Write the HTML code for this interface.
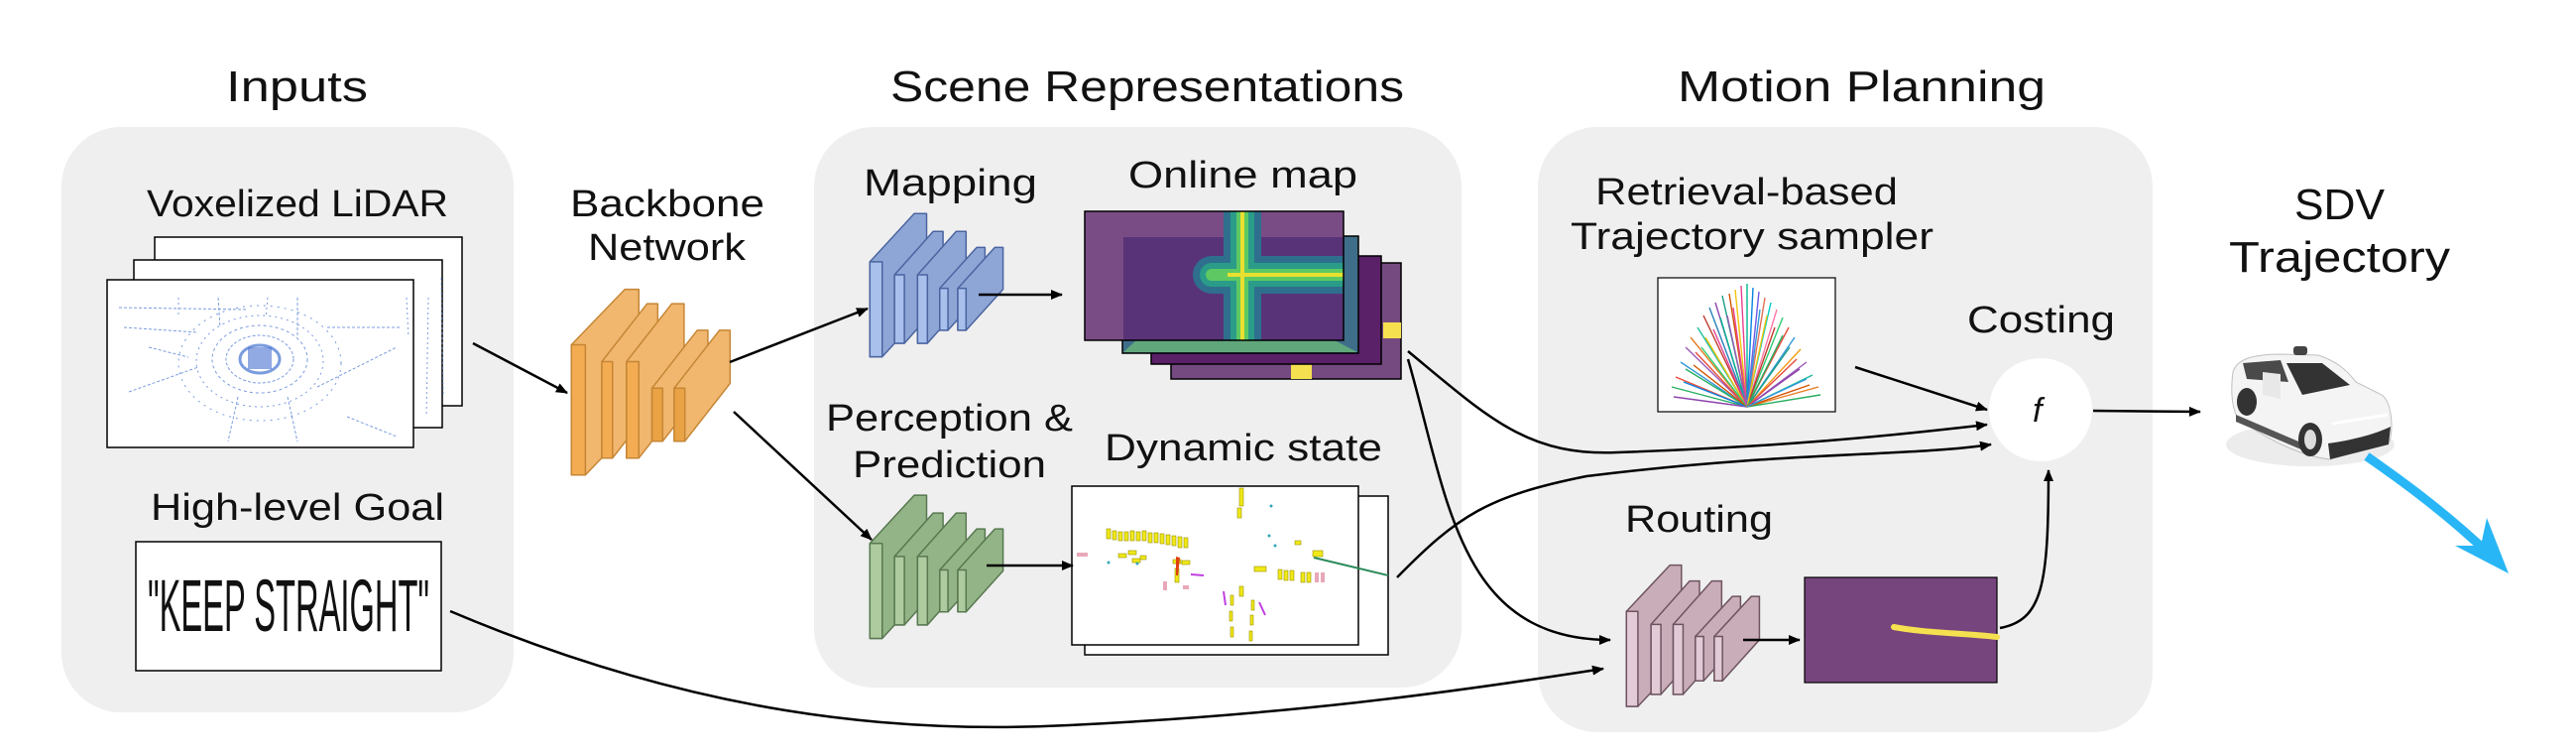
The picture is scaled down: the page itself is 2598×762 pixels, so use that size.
<!DOCTYPE html>
<html><head><meta charset="utf-8"><style>
html,body{margin:0;padding:0;background:#fff;}
svg{display:block;}
text{font-family:"Liberation Sans","DejaVu Sans",sans-serif;fill:#111;}
</style></head><body>
<svg width="2598" height="762" viewBox="0 0 2598 762" xmlns="http://www.w3.org/2000/svg">
<defs>
<marker id="ah" markerWidth="12" markerHeight="10" refX="11" refY="5" orient="auto" markerUnits="userSpaceOnUse">
<path d="M0,0 L12,5 L0,10 z" fill="#000"/></marker>
<clipPath id="cA"><rect x="1094" y="213" width="261" height="130"/></clipPath>
</defs>

<!-- panels -->
<rect x="62" y="128" width="456" height="590" rx="60" fill="#efefef"/>
<rect x="821" y="128" width="653" height="565" rx="60" fill="#efefef"/>
<rect x="1551" y="128" width="620" height="610" rx="60" fill="#efefef"/>

<!-- titles -->
<text x="228" y="102" font-size="44" textLength="143" lengthAdjust="spacingAndGlyphs">Inputs</text>
<text x="898" y="102" font-size="44" textLength="518" lengthAdjust="spacingAndGlyphs">Scene Representations</text>
<text x="1692" y="102" font-size="44" textLength="371" lengthAdjust="spacingAndGlyphs">Motion Planning</text>

<!-- labels -->
<text x="148" y="218" font-size="38" textLength="304" lengthAdjust="spacingAndGlyphs">Voxelized LiDAR</text>
<text x="575" y="218" font-size="38" textLength="196" lengthAdjust="spacingAndGlyphs">Backbone</text>
<text x="593" y="262" font-size="38" textLength="159" lengthAdjust="spacingAndGlyphs">Network</text>
<text x="152" y="524" font-size="38" textLength="296" lengthAdjust="spacingAndGlyphs">High-level Goal</text>
<text x="871" y="197" font-size="38" textLength="175" lengthAdjust="spacingAndGlyphs">Mapping</text>
<text x="1138" y="189" font-size="38" textLength="231" lengthAdjust="spacingAndGlyphs">Online map</text>
<text x="833" y="434" font-size="38" textLength="249" lengthAdjust="spacingAndGlyphs">Perception &amp;</text>
<text x="860" y="481" font-size="38" textLength="195" lengthAdjust="spacingAndGlyphs">Prediction</text>
<text x="1114" y="464" font-size="38" textLength="280" lengthAdjust="spacingAndGlyphs">Dynamic state</text>
<text x="1609" y="206" font-size="38" textLength="305" lengthAdjust="spacingAndGlyphs">Retrieval-based</text>
<text x="1584" y="251" font-size="38" textLength="366" lengthAdjust="spacingAndGlyphs">Trajectory sampler</text>
<text x="1984" y="335" font-size="38" textLength="149" lengthAdjust="spacingAndGlyphs">Costing</text>
<text x="1639" y="536" font-size="38" textLength="149" lengthAdjust="spacingAndGlyphs">Routing</text>
<text x="2314" y="221" font-size="44" textLength="91" lengthAdjust="spacingAndGlyphs">SDV</text>
<text x="2248" y="274" font-size="44" textLength="223" lengthAdjust="spacingAndGlyphs">Trajectory</text>

<!-- LiDAR frames -->
<rect x="156" y="239" width="310" height="170" fill="#fff" stroke="#000" stroke-width="1.5"/>
<rect x="135" y="262" width="311" height="169" fill="#fff" stroke="#000" stroke-width="1.5"/>
<rect x="108" y="282" width="309" height="169" fill="#fff" stroke="#000" stroke-width="1.5"/>
<g fill="none" stroke="#5b84d6" stroke-width="1" opacity="0.8">
<ellipse cx="262" cy="362" rx="20" ry="14" stroke-width="3"/>
<ellipse cx="262" cy="362" rx="34" ry="24" stroke-dasharray="3 2"/>
<ellipse cx="262" cy="362" rx="48" ry="34" stroke-dasharray="3 3"/>
<ellipse cx="262" cy="364" rx="64" ry="46" stroke-dasharray="2 4"/>
<ellipse cx="262" cy="366" rx="82" ry="58" stroke-dasharray="2 5"/>
<path d="M120,310 L250,312 M125,330 L200,335 M300,300 L300,340 M220,300 L222,330 M130,395 L200,370 M320,390 L400,350 M240,400 L230,445 M290,400 L300,445 M330,330 L405,330 M150,350 L190,360 M350,420 L400,440" stroke-dasharray="3 2"/>
<path d="M180,300 L180,320 M270,300 L268,320 M410,300 L412,340 M432,300 L430,420 M445,280 L447,400" stroke-dasharray="2 3"/>
</g>
<rect x="250" y="350" width="24" height="22" fill="#4a72d0" opacity="0.6"/>

<!-- Keep straight -->
<rect x="137" y="546" width="308" height="130" fill="#fff" stroke="#000" stroke-width="1.5"/>
<text x="149" y="636" font-size="74" textLength="284" lengthAdjust="spacingAndGlyphs" font-family="Liberation Sans Narrow,Liberation Sans,sans-serif">"KEEP STRAIGHT"</text>

<!-- left slabs group (zoom coords) -->
<g transform="scale(0.8292,0.4860)" stroke-linejoin="round">
<g fill="#f0b060" stroke="#c07a20" stroke-width="1.5" opacity="0.9">
<polygon points="695,715 760,600 777,600 777,870 712,985 695,985" vector-effect="non-scaling-stroke"/>
<rect x="695" y="715" width="17" height="270" fill="#f2a440" vector-effect="non-scaling-stroke"/>
<polygon points="732,750 787,630 800,630 800,830 745,950 732,950" vector-effect="non-scaling-stroke"/>
<rect x="732" y="750" width="13" height="200" fill="#f2a440" vector-effect="non-scaling-stroke"/>
<polygon points="762,750 817,630 832,630 832,830 777,950 762,950" vector-effect="non-scaling-stroke"/>
<rect x="762" y="750" width="15" height="200" fill="#f2a440" vector-effect="non-scaling-stroke"/>
<polygon points="793,805 848,685 861,685 861,795 806,915 793,915" vector-effect="non-scaling-stroke"/>
<rect x="793" y="805" width="13" height="110" fill="#e89a30" vector-effect="non-scaling-stroke"/>
<polygon points="820,805 875,685 888,685 888,795 833,915 820,915" vector-effect="non-scaling-stroke"/>
<rect x="820" y="805" width="13" height="110" fill="#e89a30" vector-effect="non-scaling-stroke"/>
</g>
<g fill="#8ea6d6" stroke="#4a64a0" stroke-width="1.5">
<polygon points="1058,543 1112,443 1127,443 1127,640 1073,740 1058,740" vector-effect="non-scaling-stroke"/>
<rect x="1058" y="543" width="15" height="197" fill="#a9c0ec" vector-effect="non-scaling-stroke"/>
<polygon points="1088,570 1135,480 1147,480 1147,622 1100,712 1088,712" vector-effect="non-scaling-stroke"/>
<rect x="1088" y="570" width="12" height="142" fill="#a9c0ec" vector-effect="non-scaling-stroke"/>
<polygon points="1116,570 1163,480 1175,480 1175,622 1128,712 1116,712" vector-effect="non-scaling-stroke"/>
<rect x="1116" y="570" width="12" height="142" fill="#a9c0ec" vector-effect="non-scaling-stroke"/>
<polygon points="1143,598 1188,513 1198,513 1198,600 1153,685 1143,685" vector-effect="non-scaling-stroke"/>
<rect x="1143" y="598" width="10" height="87" fill="#a9c0ec" vector-effect="non-scaling-stroke"/>
<polygon points="1165,598 1210,513 1220,513 1220,600 1175,685 1165,685" vector-effect="non-scaling-stroke"/>
<rect x="1165" y="598" width="10" height="87" fill="#a9c0ec" vector-effect="non-scaling-stroke"/>
</g>
<g fill="#93b486" stroke="#587850" stroke-width="1.5" transform="translate(0,584)">
<polygon points="1058,543 1112,443 1127,443 1127,640 1073,740 1058,740" vector-effect="non-scaling-stroke"/>
<rect x="1058" y="543" width="15" height="197" fill="#aecba0" vector-effect="non-scaling-stroke"/>
<polygon points="1088,570 1135,480 1147,480 1147,622 1100,712 1088,712" vector-effect="non-scaling-stroke"/>
<rect x="1088" y="570" width="12" height="142" fill="#aecba0" vector-effect="non-scaling-stroke"/>
<polygon points="1116,570 1163,480 1175,480 1175,622 1128,712 1116,712" vector-effect="non-scaling-stroke"/>
<rect x="1116" y="570" width="12" height="142" fill="#aecba0" vector-effect="non-scaling-stroke"/>
<polygon points="1143,598 1188,513 1198,513 1198,600 1153,685 1143,685" vector-effect="non-scaling-stroke"/>
<rect x="1143" y="598" width="10" height="87" fill="#aecba0" vector-effect="non-scaling-stroke"/>
<polygon points="1165,598 1210,513 1220,513 1220,600 1175,685 1165,685" vector-effect="non-scaling-stroke"/>
<rect x="1165" y="598" width="10" height="87" fill="#aecba0" vector-effect="non-scaling-stroke"/>
</g>
</g>
<g transform="translate(1300,0) scale(0.828,0.486)" fill="#c9adb9" stroke="#6e5560" stroke-width="1.5">
<polygon points="411,1268 464,1172 478,1172 478,1369 425,1465 411,1465" vector-effect="non-scaling-stroke"/>
<rect x="411" y="1268" width="14" height="197" fill="#e2cad6" vector-effect="non-scaling-stroke"/>
<polygon points="441,1295 488,1205 500,1205 500,1350 453,1440 441,1440" vector-effect="non-scaling-stroke"/>
<rect x="441" y="1295" width="12" height="145" fill="#e2cad6" vector-effect="non-scaling-stroke"/>
<polygon points="468,1295 515,1205 527,1205 527,1350 480,1440 468,1440" vector-effect="non-scaling-stroke"/>
<rect x="468" y="1295" width="12" height="145" fill="#e2cad6" vector-effect="non-scaling-stroke"/>
<polygon points="495,1320 540,1237 550,1237 550,1327 505,1412 495,1412" vector-effect="non-scaling-stroke"/>
<rect x="495" y="1320" width="10" height="92" fill="#e2cad6" vector-effect="non-scaling-stroke"/>
<polygon points="518,1320 563,1237 573,1237 573,1327 528,1412 518,1412" vector-effect="non-scaling-stroke"/>
<rect x="518" y="1320" width="10" height="92" fill="#e2cad6" vector-effect="non-scaling-stroke"/>
</g>

<!-- online map -->
<rect x="1181" y="265" width="232" height="117" fill="#744a80" stroke="#000" stroke-width="1.5"/>
<rect x="1395" y="325" width="18" height="16" fill="#f5e050"/>
<rect x="1302" y="367" width="21" height="15" fill="#f5e050"/>
<rect x="1161" y="258" width="232" height="109" fill="#5a2068" stroke="#000" stroke-width="1.5"/>
<rect x="1132" y="238" width="238" height="118" fill="#3f6e8a" stroke="#000" stroke-width="1.5"/>
<polygon points="1133,355 1160,330 1340,340 1369,355" fill="#6ab578" opacity="0.8"/>
<rect x="1094" y="213" width="261" height="130" fill="#7a4c85"/>
<rect x="1133" y="239" width="222" height="104" fill="#4a2a72" opacity="0.7"/>
<g fill="none" clip-path="url(#cA)">
<path d="M1253,200 L1253,360 M1355,277 L1222,277" stroke="#2e6f8e" stroke-width="38" stroke-linecap="round"/>
<path d="M1253,200 L1253,360 M1355,277 L1222,277" stroke="#2a9c88" stroke-width="24" stroke-linecap="round"/>
<path d="M1253,200 L1253,360 M1355,277 L1222,277" stroke="#5ec863" stroke-width="12" stroke-linecap="round"/>
<path d="M1253,200 L1253,360 M1355,277 L1238,277" stroke="#e8e030" stroke-width="4"/>
</g>
<rect x="1094" y="213" width="261" height="130" fill="none" stroke="#000" stroke-width="1.5"/>

<!-- dynamic state -->
<rect x="1094" y="500" width="306" height="160" fill="#fff" stroke="#000" stroke-width="1.5"/>
<rect x="1081" y="490" width="289" height="160" fill="#fff" stroke="#000" stroke-width="1.5"/>
<g fill="#f0e818" stroke="#9a9000" stroke-width="0.6">
<rect x="1116" y="533" width="4" height="10"/><rect x="1122" y="535" width="4" height="9"/><rect x="1128" y="536" width="4" height="9"/><rect x="1134" y="536" width="4" height="9"/><rect x="1140" y="535" width="4" height="10"/><rect x="1146" y="536" width="4" height="9"/><rect x="1152" y="535" width="4" height="10"/><rect x="1158" y="537" width="4" height="10"/><rect x="1164" y="537" width="4" height="10"/><rect x="1170" y="538" width="4" height="10"/><rect x="1176" y="539" width="4" height="10"/><rect x="1182" y="540" width="4" height="10"/><rect x="1188" y="541" width="4" height="11"/><rect x="1194" y="542" width="4" height="10"/>
<rect x="1128" y="558" width="8" height="4"/><rect x="1138" y="555" width="8" height="4"/><rect x="1142" y="563" width="8" height="4"/><rect x="1150" y="560" width="6" height="4"/>
<rect x="1183" y="564" width="8" height="4"/><rect x="1192" y="565" width="8" height="4"/><rect x="1185" y="573" width="4" height="14"/>
<rect x="1265" y="571" width="12" height="5"/><rect x="1289" y="574" width="4" height="10"/><rect x="1295" y="575" width="4" height="10"/><rect x="1301" y="575" width="4" height="10"/><rect x="1312" y="577" width="4" height="10"/><rect x="1318" y="577" width="4" height="10"/>
<rect x="1250" y="591" width="4" height="10"/><rect x="1241" y="600" width="3" height="10"/><rect x="1240" y="616" width="3" height="10"/><rect x="1241" y="632" width="3" height="10"/><rect x="1262" y="605" width="3" height="10"/><rect x="1261" y="620" width="3" height="10"/><rect x="1260" y="636" width="3" height="10"/>
<rect x="1250" y="492" width="4" height="18"/><rect x="1248" y="512" width="4" height="10"/><rect x="1324" y="555" width="10" height="6"/><rect x="1306" y="545" width="6" height="4"/>
</g>
<g fill="#e8a8b8"><rect x="1086" y="557" width="11" height="4"/><rect x="1173" y="586" width="4" height="9"/><rect x="1193" y="590" width="6" height="4"/><rect x="1326" y="577" width="4" height="10"/><rect x="1332" y="577" width="4" height="10"/></g>
<path d="M1186,561 L1190,562 L1188,580 L1186,580 z" fill="#e04010"/>
<path d="M1325,562 L1400,580" stroke="#2a8a5a" stroke-width="2"/>
<path d="M1201,579 L1214,580 M1234,596 L1236,610 M1270,607 L1276,620" stroke="#c040e0" stroke-width="2"/>
<g fill="#30a8b8"><circle cx="1118" cy="567" r="1.5"/><circle cx="1147" cy="568" r="1.5"/><circle cx="1280" cy="540" r="1.5"/><circle cx="1286" cy="550" r="1.5"/><circle cx="1282" cy="510" r="1.5"/></g>

<!-- sampler -->
<rect x="1672" y="280" width="179" height="135" fill="#fff" stroke="#000" stroke-width="1.2"/>
<g stroke-width="1.4" fill="none">
<path d="M1762,410 L1690,380" stroke="#e74c3c"/><path d="M1762,410 L1686,390" stroke="#27ae60"/><path d="M1762,410 L1695,365" stroke="#3498db"/><path d="M1762,410 L1700,350" stroke="#9b59b6"/><path d="M1762,410 L1705,340" stroke="#e67e22"/><path d="M1762,410 L1712,330" stroke="#1abc9c"/><path d="M1762,410 L1718,318" stroke="#c0392b"/><path d="M1762,410 L1724,310" stroke="#2980b9"/><path d="M1762,410 L1730,305" stroke="#8e44ad"/><path d="M1762,410 L1737,298" stroke="#16a085"/><path d="M1762,410 L1744,296" stroke="#d35400"/><path d="M1762,410 L1750,292" stroke="#f1c40f"/><path d="M1762,410 L1756,288" stroke="#e84393"/><path d="M1762,410 L1762,286" stroke="#00b894"/><path d="M1762,410 L1768,290" stroke="#0984e3"/><path d="M1762,410 L1774,294" stroke="#6c5ce7"/><path d="M1762,410 L1780,300" stroke="#e17055"/><path d="M1762,410 L1786,305" stroke="#00cec9"/><path d="M1762,410 L1792,312" stroke="#fd79a8"/><path d="M1762,410 L1798,320" stroke="#2ecc71"/><path d="M1762,410 L1804,330" stroke="#e74c3c"/><path d="M1762,410 L1810,340" stroke="#3498db"/><path d="M1762,410 L1816,352" stroke="#f39c12"/><path d="M1762,410 L1822,365" stroke="#9b59b6"/><path d="M1762,410 L1828,378" stroke="#1abc9c"/><path d="M1762,410 L1834,390" stroke="#e67e22"/><path d="M1762,410 L1836,398" stroke="#27ae60"/><path d="M1762,410 L1688,400" stroke="#8e44ad"/>
<path d="M1762,410 L1700,372" stroke="#27ae60"/><path d="M1762,410 L1710,355" stroke="#e74c3c"/><path d="M1762,410 L1720,340" stroke="#f1c40f"/><path d="M1762,410 L1735,320" stroke="#00b894"/><path d="M1762,410 L1748,310" stroke="#e84393"/><path d="M1762,410 L1775,312" stroke="#3498db"/><path d="M1762,410 L1790,330" stroke="#c0392b"/><path d="M1762,410 L1805,350" stroke="#16a085"/><path d="M1762,410 L1815,372" stroke="#8e44ad"/><path d="M1762,410 L1825,388" stroke="#d35400"/>
<path d="M1762,410 L1698,385" stroke="#0984e3"/><path d="M1762,410 L1708,368" stroke="#d35400"/><path d="M1762,410 L1716,350" stroke="#2ecc71"/><path d="M1762,410 L1728,332" stroke="#e84393"/><path d="M1762,410 L1742,318" stroke="#9b59b6"/><path d="M1762,410 L1782,318" stroke="#f1c40f"/><path d="M1762,410 L1798,338" stroke="#27ae60"/><path d="M1762,410 L1812,362" stroke="#e74c3c"/><path d="M1762,410 L1822,382" stroke="#3498db"/>
</g>

<!-- route map -->
<rect x="1820" y="582" width="194" height="106" fill="#77457e" stroke="#000" stroke-width="1.2"/>
<path d="M1910,632 C1940,638 1980,638 2014,642" stroke="#f5e050" stroke-width="6" fill="none" stroke-linecap="round"/>

<!-- f circle -->
<ellipse cx="2058" cy="413" rx="52" ry="52" fill="#fff"/>
<text x="2050" y="425" font-size="34" font-style="italic" font-family="Liberation Serif,serif">f</text>

<!-- arrows -->
<g fill="none" stroke="#000" stroke-width="2.5" marker-end="url(#ah)">
<path d="M477,346 L572,396"/>
<path d="M736,365 L875,311"/>
<path d="M740,415 L879,544"/>
<path d="M987,297 L1071,297"/>
<path d="M995,570 L1082,570"/>
<path d="M1871,370 L2004,413"/>
<path d="M1420,354 C1500,420 1540,460 1631,456 C1800,450 1900,440 2004,428"/>
<path d="M1409,582 C1470,520 1500,500 1600,480 C1800,455 1930,460 2008,448"/>
<path d="M1420,362 C1460,500 1470,645 1624,645"/>
<path d="M454,616 C700,720 900,740 1078,731 C1300,720 1450,700 1617,674"/>
<path d="M1758,645 L1815,645"/>
<path d="M2017,633 C2060,625 2066,590 2066,474"/>
<path d="M2111,414 L2219,415"/>
</g>

<!-- car -->
<ellipse cx="2330" cy="448" rx="85" ry="22" fill="#e4e4e4" opacity="0.7"/>
<path d="M2252,375 C2256,362 2272,357 2300,357 L2338,358 C2356,364 2366,372 2376,385 L2402,398 C2412,405 2414,430 2410,445 L2350,463 C2320,460 2280,440 2256,420 C2250,408 2250,390 2252,375 z" fill="#f4f4f4" stroke="#c0c0c0" stroke-width="1"/>
<path d="M2262,366 L2300,363 L2308,385 L2266,382 z" fill="#4a4a4a"/>
<path d="M2306,366 L2342,366 L2370,388 L2322,398 z" fill="#333"/>
<rect x="2313" y="349" width="14" height="9" rx="3" fill="#444"/>
<path d="M2282,375 L2300,377 L2300,402 L2282,398 z" fill="#e8e8e8"/>
<path d="M2348,447 C2370,444 2395,438 2411,430 L2409,448 L2350,463 z" fill="#333"/>
<path d="M2255,418 L2330,450 L2330,457 L2255,425 z" fill="#555"/>
<ellipse cx="2266" cy="405" rx="10" ry="14" fill="#333"/>
<ellipse cx="2330" cy="443" rx="12" ry="17" fill="#333"/>
<ellipse cx="2330" cy="443" rx="6" ry="10" fill="#ddd"/>
<path d="M2352,427 L2408,418" stroke="#fff" stroke-width="3"/>

<!-- blue trajectory -->
<path d="M2387,460 C2430,490 2470,520 2512,560" stroke="#29b6f6" stroke-width="9" fill="none"/>
<polygon points="2530,578 2476,550 2502,550 2508,522" fill="#29b6f6"/>
</svg>
</body></html>
